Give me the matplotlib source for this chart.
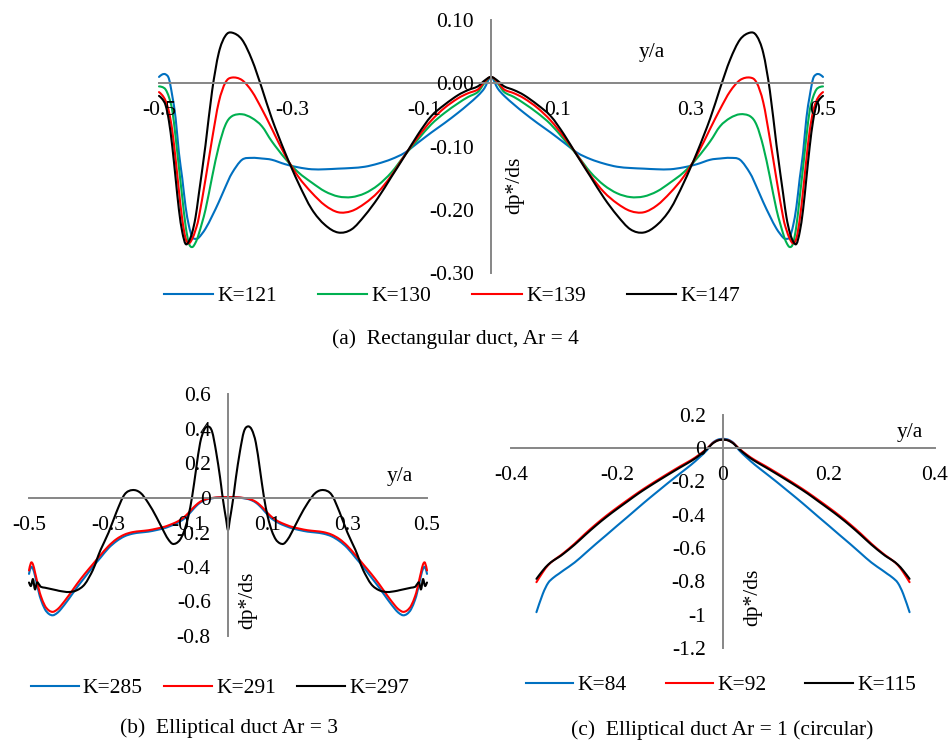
import matplotlib
matplotlib.use('Agg')
import matplotlib.pyplot as plt
from matplotlib.path import Path
from matplotlib.patches import PathPatch
from matplotlib.lines import Line2D
import numpy as np

W, H = 951, 748
plt.rcParams['font.family'] = ['Liberation Serif', 'DejaVu Serif']
plt.rcParams['font.size'] = 15.5
plt.rcParams['axes.unicode_minus'] = False

BLUE, GREEN, RED, BLACK = '#0070C0', '#00B050', '#FF0000', '#000000'
AXIS_GREY = '#868686'

# (a) rectangular duct, right half (curves are symmetric about y/a = 0)
xa = [0, 0.01, 0.02, 0.035, 0.05, 0.07, 0.09, 0.11, 0.13, 0.15,
      0.17, 0.19, 0.21, 0.23, 0.25, 0.27, 0.29, 0.31, 0.33, 0.345,
      0.36, 0.375, 0.39, 0.40, 0.41, 0.42, 0.43, 0.44, 0.445, 0.45,
      0.455, 0.46, 0.465, 0.47, 0.475, 0.48, 0.485, 0.49, 0.495, 0.5]
a_k121 = [0.010, -0.008, -0.020, -0.034, -0.047, -0.063, -0.078, -0.094, -0.110, -0.120,
          -0.127, -0.132, -0.134, -0.135, -0.136, -0.136, -0.133, -0.128, -0.121, -0.119,
          -0.118, -0.121, -0.142, -0.164, -0.188, -0.210, -0.230, -0.244, -0.246, -0.243,
          -0.225, -0.195, -0.150, -0.110, -0.055, -0.020, 0.007, 0.014, 0.014, 0.010]
a_k130 = [0.010, 0.000, -0.014, -0.022, -0.032, -0.047, -0.065, -0.089, -0.114, -0.141,
          -0.161, -0.174, -0.180, -0.179, -0.171, -0.157, -0.141, -0.119, -0.092, -0.068,
          -0.055, -0.049, -0.052, -0.066, -0.100, -0.148, -0.200, -0.238, -0.252, -0.259,
          -0.253, -0.225, -0.180, -0.133, -0.085, -0.043, -0.022, -0.010, -0.006, -0.005]
a_k139 = [0.010, 0.002, -0.010, -0.016, -0.024, -0.039, -0.059, -0.085, -0.114, -0.146,
          -0.172, -0.190, -0.202, -0.204, -0.193, -0.173, -0.148, -0.114, -0.072, -0.041,
          -0.013, 0.005, 0.009, 0.001, -0.030, -0.088, -0.152, -0.212, -0.232, -0.246,
          -0.253, -0.245, -0.215, -0.170, -0.120, -0.075, -0.045, -0.028, -0.019, -0.014]
a_k147 = [0.010, 0.004, -0.005, -0.011, -0.019, -0.034, -0.052, -0.081, -0.115, -0.148,
          -0.181, -0.209, -0.231, -0.236, -0.224, -0.199, -0.158, -0.110, -0.056, -0.008,
          0.037, 0.069, 0.080, 0.075, 0.048, -0.012, -0.098, -0.175, -0.212, -0.236,
          -0.250, -0.254, -0.235, -0.200, -0.150, -0.100, -0.060, -0.035, -0.025, -0.020]

# (b) elliptical duct Ar = 3, right half
xb = [0, 0.005, 0.01, 0.015, 0.02, 0.03, 0.04, 0.05, 0.06, 0.07,
      0.08, 0.09, 0.10, 0.11, 0.12, 0.13, 0.14, 0.15, 0.16, 0.18,
      0.20, 0.22, 0.24, 0.26, 0.28, 0.30, 0.32, 0.33, 0.34, 0.36,
      0.38, 0.40, 0.42, 0.43, 0.44, 0.45, 0.46, 0.47, 0.475, 0.48,
      0.485, 0.49, 0.495, 0.5]
b_k285 = [0.005, 0.005, 0.005, 0.005, 0.004, 0.002, -0.002, -0.006, -0.014, -0.027,
          -0.047, -0.072, -0.098, -0.120, -0.135, -0.148, -0.158, -0.167, -0.175, -0.186,
          -0.195, -0.200, -0.207, -0.222, -0.250, -0.290, -0.345, -0.372, -0.400, -0.460,
          -0.520, -0.585, -0.645, -0.668, -0.680, -0.672, -0.645, -0.590, -0.550, -0.500,
          -0.450, -0.410, -0.400, -0.440]
b_k291 = [0.005, 0.005, 0.005, 0.005, 0.004, 0.003, 0.000, -0.004, -0.011, -0.022,
          -0.040, -0.063, -0.088, -0.110, -0.127, -0.140, -0.150, -0.159, -0.167, -0.178,
          -0.187, -0.192, -0.198, -0.212, -0.238, -0.278, -0.330, -0.357, -0.385, -0.440,
          -0.500, -0.565, -0.625, -0.648, -0.660, -0.652, -0.625, -0.570, -0.530, -0.480,
          -0.430, -0.385, -0.375, -0.420]
b_k297 = [-0.186, -0.120, -0.050, 0.030, 0.120, 0.270, 0.385, 0.415, 0.395, 0.320,
          0.170, 0.010, -0.110, -0.190, -0.240, -0.262, -0.265, -0.240, -0.200, -0.110,
          -0.030, 0.030, 0.046, 0.020, -0.080, -0.200, -0.300, -0.360, -0.420, -0.500,
          -0.535, -0.545, -0.540, -0.535, -0.530, -0.525, -0.520, -0.515, -0.500, -0.490,
          -0.530, -0.470, -0.510, -0.490]

# (c) circular duct, right half
xc = [0, 0.01, 0.02, 0.03, 0.045, 0.06, 0.08, 0.10, 0.12, 0.14,
      0.16, 0.18, 0.20, 0.22, 0.24, 0.26, 0.28, 0.30, 0.31, 0.32,
      0.33, 0.34, 0.352]
c_k84 = [0.055, 0.050, 0.030, -0.012, -0.058, -0.100, -0.150, -0.200, -0.252, -0.304,
         -0.358, -0.413, -0.467, -0.522, -0.576, -0.632, -0.687, -0.732, -0.755, -0.778,
         -0.810, -0.875, -0.985]
c_k92 = [0.050, 0.046, 0.028, -0.002, -0.040, -0.072, -0.108, -0.146, -0.185, -0.225,
         -0.267, -0.312, -0.358, -0.406, -0.458, -0.514, -0.574, -0.628, -0.652, -0.675,
         -0.703, -0.745, -0.805]
c_k115 = [0.050, 0.045, 0.026, -0.005, -0.045, -0.078, -0.115, -0.153, -0.192, -0.232,
          -0.274, -0.320, -0.366, -0.414, -0.466, -0.522, -0.580, -0.632, -0.655, -0.675,
          -0.700, -0.735, -0.785]


def mirror(x, y):
    x = np.asarray(x, dtype=float)
    y = np.asarray(y, dtype=float)
    return np.concatenate([-x[::-1], x[1:]]), np.concatenate([y[::-1], y[1:]])


def smooth_line(ax, x, y, color, label):
    # Excel-style "smoothed line": Bezier segments through the data points
    pts = np.column_stack([x, y])
    n = len(pts)
    verts, codes = [pts[0]], [Path.MOVETO]
    for i in range(n - 1):
        p0 = pts[i - 1] if i > 0 else pts[i]
        p1, p2 = pts[i], pts[i + 1]
        p3 = pts[i + 2] if i + 2 < n else pts[i + 1]
        verts += [p1 + (p2 - p0) / 6, p2 - (p3 - p1) / 6, p2]
        codes += [Path.CURVE4] * 3
    ax.add_patch(PathPatch(Path(verts, codes), fill=False, edgecolor=color,
                           lw=1.5, capstyle='round', joinstyle='round', clip_on=False))
    return Line2D([], [], color=color, lw=1.5, label=label)


def px_axes(fig, x0, x1, y0, y1):
    # axes box given in pixel coordinates of the 951x748 canvas (top origin)
    return fig.add_axes([x0 / W, 1 - y1 / H, (x1 - x0) / W, (y1 - y0) / H])


def style(ax, xlim, ylim, xticks, xlabels, yticks, ylabels):
    ax.set_xlim(xlim)
    ax.set_ylim(ylim)
    ax.patch.set_alpha(0)
    for s in ['top', 'right']:
        ax.spines[s].set_visible(False)
    for s in ['left', 'bottom']:
        ax.spines[s].set_position(('data', 0))
        ax.spines[s].set_color(AXIS_GREY)
        ax.spines[s].set_linewidth(1.4)
        ax.spines[s].set_zorder(1)
    ax.set_xticks(xticks)
    ax.set_xticklabels(xlabels)
    ax.set_yticks(yticks)
    ax.set_yticklabels(ylabels)
    ax.tick_params(axis='x', length=0, pad=13)
    ax.tick_params(axis='y', length=0, pad=12.5)


def ftext(x, y, s, **kw):
    fig.text(x / W, 1 - y / H, s, ha='center', va='center', **kw)


fig = plt.figure(figsize=(W / 100, H / 100), dpi=100)
fig.patch.set_facecolor('white')

# ---- (a) ----
ax1 = px_axes(fig, 159, 823, 20, 273)
h1 = []
for y, c, lab in [(a_k121, BLUE, 'K=121'), (a_k130, GREEN, 'K=130'),
                  (a_k139, RED, 'K=139'), (a_k147, BLACK, 'K=147')]:
    xx, yy = mirror(xa, y)
    h1.append(smooth_line(ax1, xx, yy, c, lab))
style(ax1, (-0.5, 0.5), (-0.3, 0.1),
      [-0.5, -0.3, -0.1, 0.1, 0.3, 0.5], ['-0.5', '-0.3', '-0.1', '0.1', '0.3', '0.5'],
      [0.1, 0.0, -0.1, -0.2, -0.3], ['0.10', '0.00', '-0.10', '-0.20', '-0.30'])
ftext(652, 53, 'y/a')
ftext(515, 185, 'dp*/ds', rotation=90)
fig.legend(handles=h1, loc='center', bbox_to_anchor=(452 / W, 1 - 296 / H), ncol=4,
           frameon=False, handlelength=2.3, handletextpad=0.2, columnspacing=1.9)
ftext(455, 339, '(a)  Rectangular duct, Ar = 4')

# ---- (b) ----
ax2 = px_axes(fig, 29, 427, 394.5, 636)
h2 = []
for y, c, lab in [(b_k285, BLUE, 'K=285'), (b_k291, RED, 'K=291'), (b_k297, BLACK, 'K=297')]:
    xx, yy = mirror(xb, y)
    h2.append(smooth_line(ax2, xx, yy, c, lab))
style(ax2, (-0.5, 0.5), (-0.8, 0.6),
      [-0.5, -0.3, -0.1, 0.1, 0.3, 0.5], ['-0.5', '-0.3', '-0.1', '0.1', '0.3', '0.5'],
      [0.6, 0.4, 0.2, 0.0, -0.2, -0.4, -0.6, -0.8],
      ['0.6', '0.4', '0.2', '0', '-0.2', '-0.4', '-0.6', '-0.8'])
ftext(400, 477, 'y/a')
ftext(248, 600, 'dp*/ds', rotation=90)
fig.legend(handles=h2, loc='center', bbox_to_anchor=(220 / W, 1 - 688 / H), ncol=3,
           frameon=False, handlelength=2.2, handletextpad=0.2, columnspacing=1.0)
ftext(229, 728, '(b)  Elliptical duct Ar = 3')

# ---- (c) ----
ax3 = px_axes(fig, 511, 935, 414.7, 648)
h3 = []
for y, c, lab in [(c_k84, BLUE, 'K=84'), (c_k92, RED, 'K=92'), (c_k115, BLACK, 'K=115')]:
    xx, yy = mirror(xc, y)
    h3.append(smooth_line(ax3, xx, yy, c, lab))
style(ax3, (-0.4, 0.4), (-1.2, 0.2),
      [-0.4, -0.2, 0.0, 0.2, 0.4], ['-0.4', '-0.2', '0', '0.2', '0.4'],
      [0.2, 0.0, -0.2, -0.4, -0.6, -0.8, -1.0, -1.2],
      ['0.2', '0', '-0.2', '-0.4', '-0.6', '-0.8', '-1', '-1.2'])
ftext(910, 432, 'y/a')
ftext(753, 597, 'dp*/ds', rotation=90)
fig.legend(handles=h3, loc='center', bbox_to_anchor=(721 / W, 1 - 685 / H), ncol=3,
           frameon=False, handlelength=2.2, handletextpad=0.2, columnspacing=1.8)
ftext(722, 730, '(c)  Elliptical duct Ar = 1 (circular)')

fig.savefig('out.png', dpi=100, facecolor='white')
